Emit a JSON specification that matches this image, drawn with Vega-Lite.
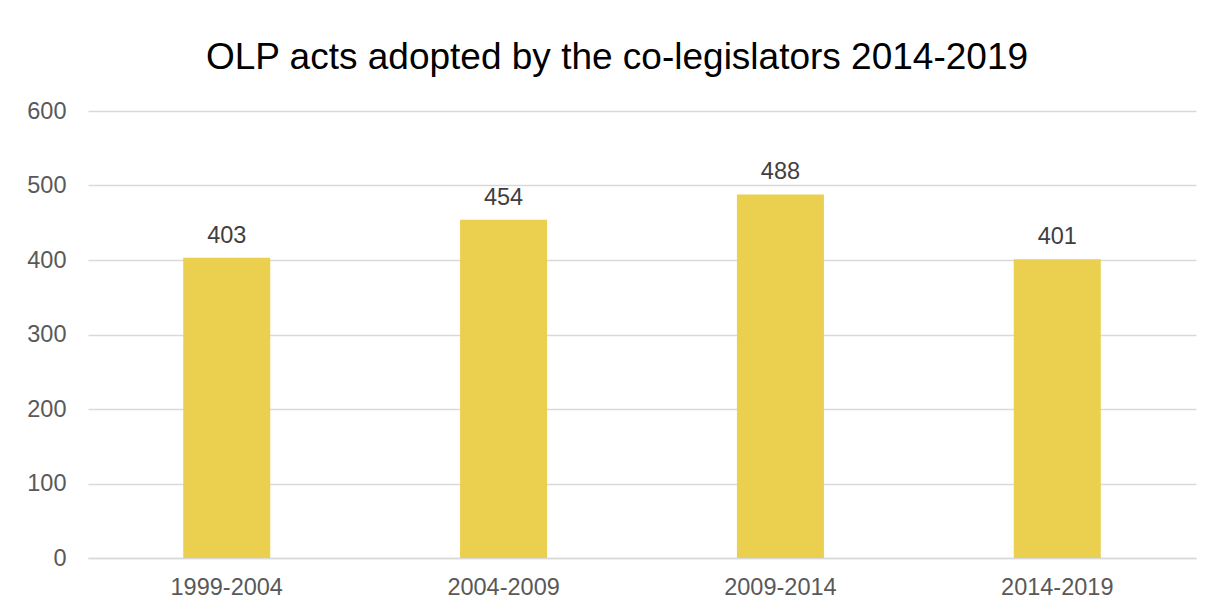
{
  "$schema": "https://vega.github.io/schema/vega-lite/v6.json",
  "width": 1108,
  "height": 447,
  "autosize": {"type": "none"},
  "padding": {"left": 88, "top": 111, "right": 17, "bottom": 50},
  "background": "white",
  "title": {
    "text": "OLP acts adopted by the co-legislators 2014-2019",
    "font": "Liberation Sans",
    "fontSize": 37,
    "fontWeight": "normal",
    "color": "#000000",
    "anchor": "middle",
    "frame": "group",
    "dx": -25,
    "offset": 22
  },
  "config": {
    "view": {"stroke": null},
    "font": "Liberation Sans"
  },
  "data": {
    "values": [
      {"period": "1999-2004", "acts": 403},
      {"period": "2004-2009", "acts": 454},
      {"period": "2009-2014", "acts": 488},
      {"period": "2014-2019", "acts": 401}
    ]
  },
  "encoding": {
    "x": {
      "field": "period",
      "type": "nominal",
      "sort": null,
      "scale": {"paddingInner": 0.6857, "paddingOuter": 0.344},
      "axis": {
        "title": null,
        "labelAngle": 0,
        "labelFont": "Liberation Sans",
        "labelFontSize": 23.5,
        "labelColor": "#595959",
        "labelPadding": 17,
        "ticks": false,
        "domainColor": "#D9D9D9",
        "domainWidth": 1.5
      }
    },
    "y": {
      "field": "acts",
      "type": "quantitative",
      "scale": {"domain": [0, 600], "nice": false},
      "axis": {
        "title": null,
        "values": [0, 100, 200, 300, 400, 500, 600],
        "labelFont": "Liberation Sans",
        "labelFontSize": 23.5,
        "labelColor": "#595959",
        "labelPadding": 22,
        "ticks": false,
        "domain": false,
        "gridColor": "#D9D9D9",
        "gridWidth": 1.5
      }
    }
  },
  "layer": [
    {"mark": {"type": "bar", "color": "#EBCF4F"}},
    {
      "mark": {
        "type": "text",
        "baseline": "alphabetic",
        "dy": -15,
        "font": "Liberation Sans",
        "fontSize": 23.5,
        "color": "#404040"
      },
      "encoding": {"text": {"field": "acts", "type": "quantitative"}}
    }
  ]
}
